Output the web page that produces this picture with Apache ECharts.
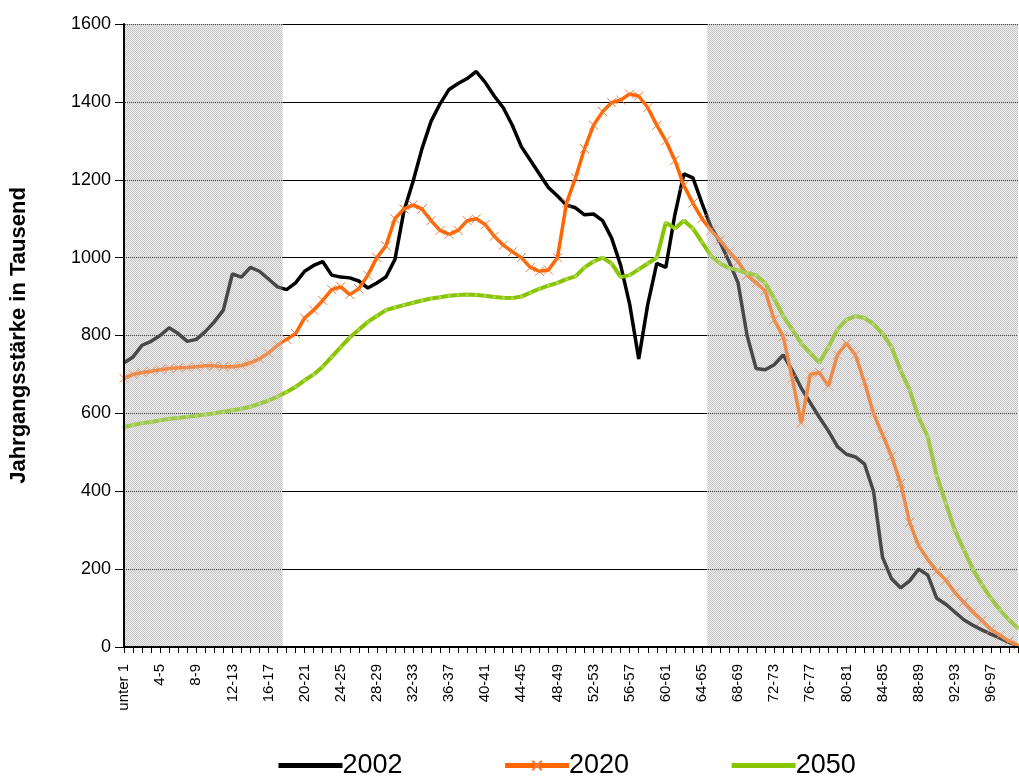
<!DOCTYPE html>
<html>
<head>
<meta charset="utf-8">
<script src="https://cdn.jsdelivr.net/npm/echarts@6/dist/echarts.min.js"></script>
<style>
  html, body { margin: 0; padding: 0; background: #fff; }
  #chart { width: 1019px; height: 776px; }
</style>
</head>
<body>
<div id="chart"></div>
<script>
// Altersklassen: unter 1, 1-2, ..., 99-100
var ages = ['unter 1'];
for (var a = 1; a < 100; a++) { ages.push(a + '-' + (a + 1)); }

var yTicks = [0, 200, 400, 600, 800, 1000, 1200, 1400, 1600];

// grau hinterlegte Bereiche (Position auf der Altersachse)
var shadeLeft = [0, 17.55];
var shadeRight = [64.6, 99];

var y2002 = [730, 745, 775, 785, 800, 820, 805, 785, 790, 810,
             835, 865, 958, 950, 975, 965, 945, 925, 918, 935,
             965, 980, 990, 955, 950, 948, 940, 922, 935, 950,
             995, 1120, 1195, 1280, 1350, 1395, 1432, 1447, 1460, 1478,
             1450, 1415, 1385, 1340, 1285, 1250, 1215, 1180, 1158, 1135,
             1128, 1110, 1112, 1095, 1050, 980, 880, 740, 880, 985,
             975, 1110, 1215, 1205, 1140, 1079, 1040, 990, 935, 800,
             715, 712, 725, 750, 710, 665, 627, 590, 555, 515,
             495, 488, 470, 400, 230, 175, 152, 170, 200, 185,
             125, 110, 90, 70, 56, 44, 33, 23, 12, 3];

var y2020 = [690, 700, 705, 708, 712, 715, 717, 718, 720, 722,
             722, 720, 720, 723, 730, 740, 755, 775, 790, 805,
             845, 865, 890, 918, 925, 905, 920, 955, 1000, 1030,
             1100, 1125, 1135, 1125, 1095, 1070, 1060, 1070, 1095, 1100,
             1085, 1055, 1032, 1015, 1000, 975, 965, 968, 1000, 1140,
             1205, 1280, 1340, 1375, 1398, 1405, 1420, 1415, 1385, 1340,
             1300, 1250, 1185, 1140, 1100, 1070, 1045, 1015, 990, 955,
             935, 915, 840, 797, 690, 575, 700, 705, 670, 750,
             780, 750, 680, 600, 545, 490, 420, 320, 260, 225,
             195, 172, 140, 115, 90, 68, 45, 30, 15, 5];

var y2050 = [565, 570, 575, 578, 582, 586, 588, 591, 594, 597,
             600, 604, 608, 612, 617, 625, 633, 643, 655, 668,
             685, 700, 720, 745, 770, 795, 815, 835, 850, 865,
             872, 878, 884, 890, 895, 898, 902, 904, 905, 904,
             902, 899, 897, 896, 900, 910, 920, 928, 935, 945,
             952, 975, 990, 1000, 985, 950, 955, 970, 985, 1000,
             1090, 1075, 1095, 1075, 1040, 1005, 985, 973, 968, 960,
             955, 935, 895, 850, 815, 780, 755, 730, 770, 815,
             840, 850, 845, 830, 805, 770, 710, 660, 590, 540,
             440, 370, 300, 250, 200, 160, 125, 95, 70, 48];

// Punktraster fuer die grauen Flaechen
var pat = document.createElement('canvas');
pat.width = 2; pat.height = 2;
var pctx = pat.getContext('2d');
pctx.fillStyle = '#c4c4c4';
pctx.fillRect(0, 0, 1, 1);
pctx.fillRect(1, 1, 1, 1);

var font = '"Liberation Sans", Arial, sans-serif';
var crossPath = 'path://M0,0L10,10M10,0L0,10';

var shadeAreas = [
    [{ xAxis: shadeLeft[0] }, { xAxis: shadeLeft[1] }],
    [{ xAxis: shadeRight[0] }, { xAxis: shadeRight[1] }]
];

var option = {
    backgroundColor: '#fff',
    animation: false,
    grid: { left: 122, right: 1, top: 24, bottom: 129, containLabel: false },
    legend: {
        data: [
            { name: '2002', itemStyle: { opacity: 0 } },
            { name: '2020' },
            { name: '2050', itemStyle: { opacity: 0 } }
        ],
        left: 271,
        top: 747,
        itemWidth: 64,
        itemHeight: 12,
        itemGap: 100,
        lineStyle: { width: 5 },
        textStyle: { fontFamily: font, fontSize: 27, color: '#000', padding: [0, 0, 0, -5] }
    },
    xAxis: [{
        type: 'category',
        data: ages,
        boundaryGap: false,
        z: 20,
        axisLine: { lineStyle: { color: '#000', width: 2 } },
        axisTick: { interval: 0, length: 6, lineStyle: { color: '#000' } },
        axisLabel: {
            interval: 3,
            rotate: 90,
            margin: 17,
            fontFamily: font,
            fontSize: 15,
            color: '#000'
        },
        splitLine: { show: false }
    }, {
        type: 'value',
        min: 0,
        max: 99,
        show: false
    }],
    yAxis: [{
        type: 'value',
        min: yTicks[0],
        max: yTicks[yTicks.length - 1],
        interval: 200,
        name: 'Jahrgangsstärke in Tausend',
        nameLocation: 'middle',
        nameRotate: 90,
        nameGap: 94,
        nameTextStyle: { fontFamily: font, fontSize: 22, fontWeight: 'bold', color: '#000' },
        axisLine: { show: false },
        axisTick: { show: false },
        axisLabel: {
            fontFamily: font, fontSize: 18, color: '#000', margin: 13,
            formatter: function (v) { return String(v); }
        },
        splitLine: { show: true, lineStyle: { color: '#000', width: 1 } }
    }, {
        type: 'value',
        min: 0,
        max: 1600,
        interval: 200,
        position: 'left',
        z: 20,
        axisLine: { show: true, lineStyle: { color: '#000', width: 2 } },
        axisTick: { show: true, length: 9, lineStyle: { color: '#000' } },
        axisLabel: { show: false },
        splitLine: { show: false }
    }],
    series: [{
        name: '2002',
        type: 'line',
        data: y2002,
        symbol: 'none',
        z: 3,
        color: '#000',
        lineStyle: { color: '#000', width: 3.5 }
    }, {
        name: '2020',
        type: 'line',
        data: y2020,
        symbol: crossPath,
        symbolSize: 9,
        showSymbol: true,
        showAllSymbol: true,
        z: 4,
        color: '#ff6600',
        itemStyle: { color: 'none', borderColor: '#f27a36', borderWidth: 1 },
        lineStyle: { color: '#ff6600', width: 3.5 }
    }, {
        name: '2050',
        type: 'line',
        data: y2050,
        symbol: 'rect',
        symbolSize: [3, 3],
        showAllSymbol: true,
        z: 5,
        color: '#88c400',
        itemStyle: { color: '#a8d850' },
        lineStyle: { color: '#88c400', width: 4 }
    }, {
        // Raster unter den Linien
        type: 'line',
        xAxisIndex: 1,
        yAxisIndex: 0,
        data: [],
        z: 1,
        silent: true,
        markArea: {
            silent: true,
            z: 1,
            itemStyle: { color: { image: pat, repeat: 'repeat' } },
            data: shadeAreas
        }
    }, {
        // leichter Schleier ueber den Linien
        type: 'line',
        xAxisIndex: 1,
        yAxisIndex: 0,
        data: [],
        z: 10,
        silent: true,
        markArea: {
            silent: true,
            z: 10,
            itemStyle: { color: 'rgba(205,205,205,0.35)' },
            data: shadeAreas
        }
    }]
};

var myChart = echarts.init(document.getElementById('chart'));
myChart.setOption(option);
window.addEventListener('resize', function () {
    myChart.resize();
});
</script>
</body>
</html>
